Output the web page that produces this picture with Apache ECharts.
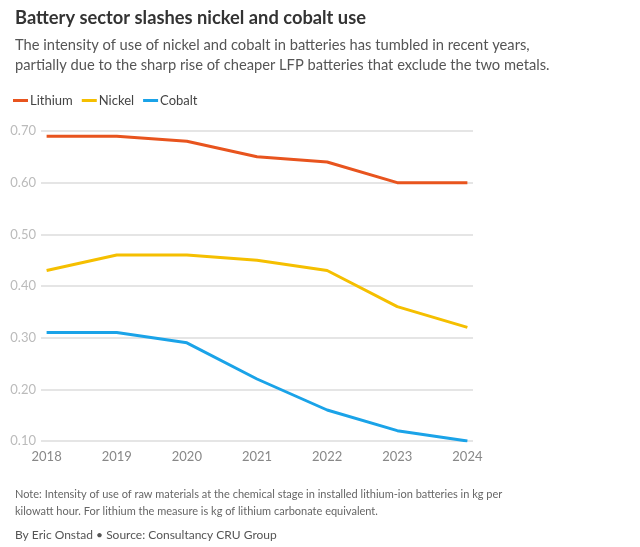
<!DOCTYPE html>
<html>
<head>
<meta charset="utf-8">
<script src="https://cdn.jsdelivr.net/npm/echarts@6/dist/echarts.min.js"></script>
<style>
  html, body { margin: 0; padding: 0; background: #fff; }
  #chart { width: 640px; height: 547px; }
</style>
</head>
<body>
<div id="chart"></div>
<script>
// data
var years = [2018, 2019, 2020, 2021, 2022, 2023, 2024];
var lithium = [0.69, 0.69, 0.68, 0.65, 0.64, 0.60, 0.60];
var nickel = [0.43, 0.46, 0.46, 0.45, 0.43, 0.36, 0.32];
var cobalt = [0.31, 0.31, 0.29, 0.22, 0.16, 0.12, 0.10];
var yTicks = [0.1, 0.2, 0.3, 0.4, 0.5, 0.6, 0.7];

var font = 'Lato';

function pairs(vals) {
  return years.map(function (y, i) { return [y, vals[i]]; });
}

function line(name, vals, color) {
  return {
    name: name,
    type: 'line',
    data: pairs(vals),
    symbol: 'none',
    lineStyle: { color: color, width: 3 },
    itemStyle: { color: color }
  };
}

var chart = echarts.init(document.getElementById('chart'));

var option = {
  backgroundColor: '#fff',
  animation: false,
  textStyle: { fontFamily: font },
  title: [{
    text: 'Battery sector slashes nickel and cobalt use',
    left: 10, top: 4,
    textStyle: { fontFamily: font, fontSize: 18.3, fontWeight: 'bold', color: '#333' }
  }, {
    text: 'The intensity of use of nickel and cobalt in batteries has tumbled in recent years,\npartially due to the sharp rise of cheaper LFP batteries that exclude the two metals.',
    left: 10, top: 30,
    textStyle: { fontFamily: font, fontSize: 14.7, fontWeight: 'normal', color: '#555', lineHeight: 20 }
  }, {
    text: 'Note: Intensity of use of raw materials at the chemical stage in installed lithium-ion batteries in kg per\nkilowatt hour. For lithium the measure is kg of lithium carbonate equivalent.',
    left: 10, top: 481,
    textStyle: { fontFamily: font, fontSize: 11, fontWeight: 'normal', color: '#666', lineHeight: 17 }
  }, {
    text: 'By Eric Onstad \u2022 Source: Consultancy CRU Group',
    left: 10, top: 524,
    textStyle: { fontFamily: font, fontSize: 12, fontWeight: 'normal', color: '#555' }
  }],
  legend: {
    left: 8, top: 89,
    icon: 'rect',
    itemWidth: 15, itemHeight: 3,
    itemGap: 9,
    textStyle: { fontFamily: font, fontSize: 13, color: '#444', padding: [0, 0, 0, -3] },
    data: ['Lithium', 'Nickel', 'Cobalt']
  },
  grid: { left: 41, right: 167, top: 131, bottom: 106, containLabel: false },
  xAxis: {
    type: 'value',
    min: 2017.92, max: 2024.08,
    axisLine: { show: false },
    axisTick: { show: false },
    splitLine: { show: false },
    axisLabel: {
      customValues: years,
      margin: 9,
      color: '#888',
      fontFamily: font,
      fontSize: 13,
      formatter: function (v) { return String(Math.round(v)); }
    }
  },
  yAxis: {
    type: 'value',
    min: 0.1, max: 0.7, interval: 0.1,
    axisLine: { show: false },
    axisTick: { show: false },
    splitLine: { lineStyle: { color: '#dcdcdc', width: 1.5 } },
    axisLabel: {
      customValues: yTicks,
      margin: 5,
      color: '#bbb',
      fontFamily: font,
      fontSize: 13,
      formatter: function (v) { return v.toFixed(2); }
    }
  },
  series: [
    line('Lithium', lithium, '#e8541e'),
    line('Nickel', nickel, '#f5bf00'),
    line('Cobalt', cobalt, '#1aa3e8')
  ]
};

chart.setOption(option);
</script>
</body>
</html>
